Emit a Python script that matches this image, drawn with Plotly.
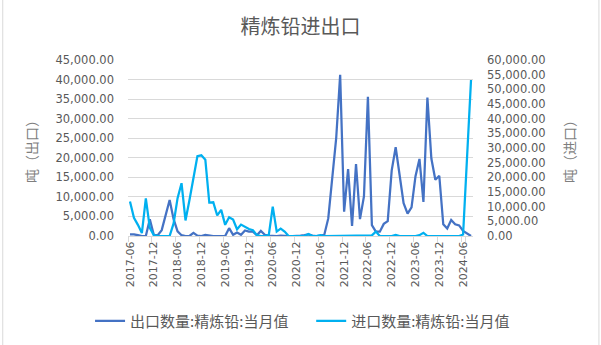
import pandas as pd
import plotly.graph_objects as go

# Monthly categories, 2017-06 .. 2024-08
months = pd.date_range("2017-06-01", "2024-08-01", freq="MS").strftime("%Y-%m").tolist()

# Refined lead exports, tonnes (left axis)
export_t = [
    400, 400, 200, 0, 0, 4300, 300, 200, 1500, 5200,
    9200, 4300, 1200, 200, 0, 0, 800, 100, 0, 300,
    100, 0, 0, 0, 0, 2000, 300, 900, 300, 1400,
    1100, 1100, 200, 1300, 300, 100, 0, 0, 100, 0,
    0, 0, 0, 100, 200, 400, 100, 0, 100, 300,
    4500, 14500, 25000, 41200, 6200, 17100, 2600, 18400, 4300, 10100,
    35600, 2800, 1100, 1100, 3100, 3800, 16800, 22700, 15400, 8400,
    5700, 7300, 15300, 19700, 8700, 35400, 19800, 14400, 15400, 3000,
    1900, 4100, 3000, 2700, 1300, 700, 0,
]

# Refined lead imports, tonnes (right axis)
import_t = [
    11800, 6200, 3800, 1000, 12800, 2800, 300, 0, 0, 0,
    0, 4300, 12900, 18000, 5300, 12300, 20000, 27200, 27500, 26000,
    11400, 11500, 7000, 8900, 3800, 6400, 5600, 2300, 3900, 3000,
    2400, 2000, 300, 0, 0, 300, 10000, 1500, 2500, 1500,
    0, 0, 0, 0, 0, 700, 0, 0, 300, 0,
    0, 0, 0, 0, 0, 0, 0, 0, 0, 0,
    0, 200, 1500, 0, 0, 0, 0, 400, 0, 0,
    0, 0, 0, 300, 1100, 0, 0, 0, 0, 0,
    0, 0, 0, 0, 500, 26500, 53200,
]

tick_labels = months[::6]

FONT = "DejaVu Sans, Noto Sans CJK SC, sans-serif"
CJK = "Noto Sans CJK SC, sans-serif"
TXT = "#595959"
GRID = "#d9d9d9"

fig = go.Figure()
fig.add_trace(go.Scatter(
    x=months, y=export_t, name="出口数量:精炼铅:当月值",
    mode="lines", line=dict(color="#4472C4", width=2.25), yaxis="y", legend="legend",
))
fig.add_trace(go.Scatter(
    x=months, y=import_t, name="进口数量:精炼铅:当月值",
    mode="lines", line=dict(color="#00B0F0", width=2.25), yaxis="y2", legend="legend2",
))

legend_style = dict(font=dict(family=CJK, size=15, color=TXT), itemwidth=30,
                    y=-0.483, yanchor="middle", xanchor="left", bgcolor="rgba(0,0,0,0)")

fig.update_layout(
    width=601, height=345,
    margin=dict(l=128, r=128, t=60, b=109, autoexpand=False),
    paper_bgcolor="white", plot_bgcolor="white",
    font=dict(family=FONT, color=TXT, size=11),
    title=dict(text="精炼铅进出口", x=0.5, xanchor="center", y=0.922, yanchor="middle",
               font=dict(family=CJK, size=20, color=TXT)),
    showlegend=True,
    legend=dict(x=-0.11, **legend_style),
    legend2=dict(x=0.531, **legend_style),
    xaxis=dict(
        type="category", range=[-0.5, len(months) - 0.5], automargin=False,
        tickmode="array", tickvals=tick_labels, ticktext=tick_labels,
        tickson="boundaries", ticks="outside", ticklen=5, tickcolor=GRID,
        tickangle=-90, tickfont=dict(size=11, color=TXT),
        showgrid=False, showline=True, linecolor=GRID, linewidth=1,
        zeroline=False,
    ),
    yaxis=dict(
        range=[0, 45000], dtick=5000, tickformat=",.2f", automargin=False,
        showgrid=True, gridcolor=GRID, gridwidth=1, zeroline=False,
        ticks="", ticklabelstandoff=13, tickfont=dict(size=11.5, color=TXT),
        title=dict(text="吨（出口）", standoff=14,
                   font=dict(family=CJK, size=14, color="#7f7f7f")),
    ),
    yaxis2=dict(
        range=[0, 60000], dtick=5000, tickformat=",.2f", automargin=False,
        overlaying="y", side="right", showgrid=False, zeroline=False,
        ticks="", ticklabelstandoff=13, tickfont=dict(size=11.5, color=TXT),
        title=dict(text="吨（进口）", standoff=20,
                   font=dict(family=CJK, size=14, color="#7f7f7f")),
    ),
    shapes=[
        dict(type="line", xref="paper", yref="paper", x0=-0.363, x1=-0.363, y0=-0.7, y1=1.4,
             line=dict(color=GRID, width=1)),
        dict(type="line", xref="paper", yref="paper", x0=1.365, x1=1.365, y0=-0.7, y1=1.4,
             line=dict(color=GRID, width=1)),
    ],
)

fig.write_html("out.html")
